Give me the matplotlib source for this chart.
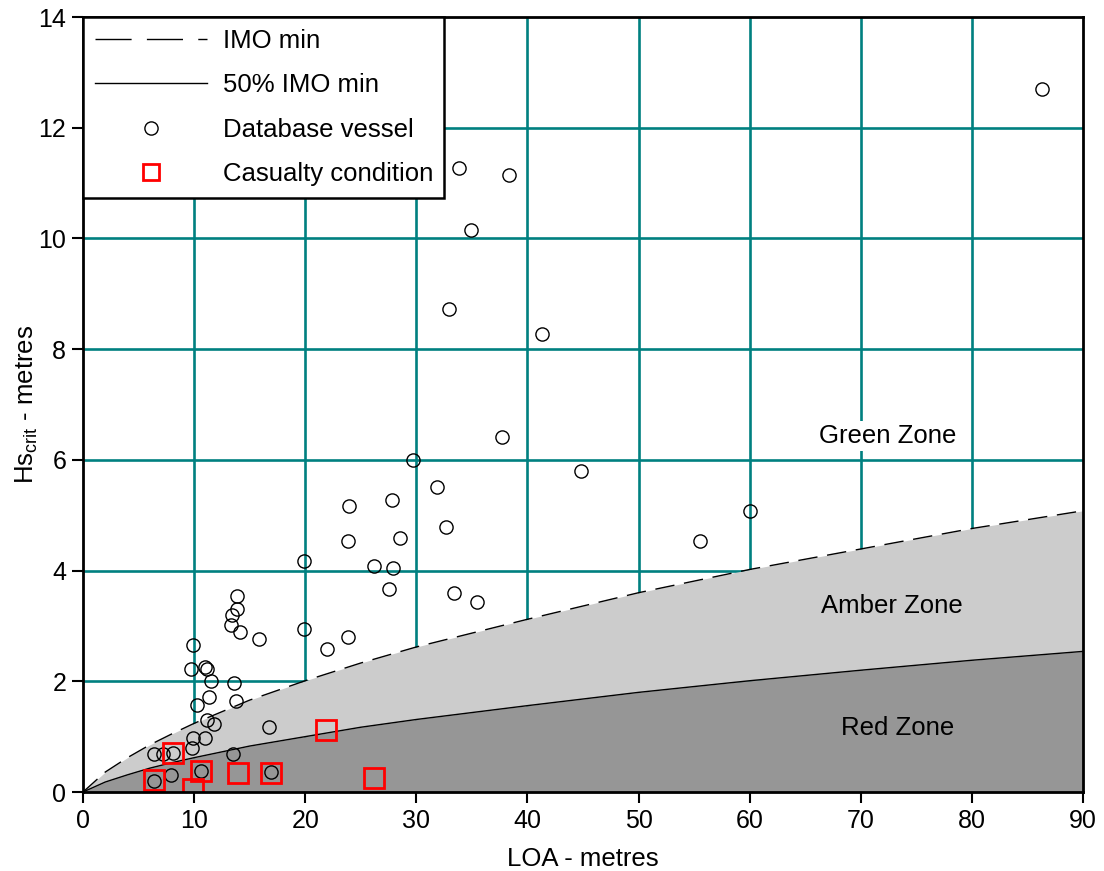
import matplotlib.pyplot as plt
from matplotlib.lines import Line2D

plt.rcParams['font.family'] = ['Liberation Sans', 'DejaVu Sans']
plt.rcParams['mathtext.fontset'] = 'custom'
plt.rcParams['mathtext.rm'] = 'Liberation Sans'
plt.rcParams['mathtext.it'] = 'Liberation Sans'

# IMO minimum critical wave height vs length overall
loa_curve = [0, 2, 4, 6, 8, 10, 15, 20, 25, 30, 40, 50, 60, 70, 80, 90]
imo_min = [0, 0.36, 0.62, 0.85, 1.05, 1.24, 1.66, 2.01, 2.33, 2.62, 3.12, 3.60, 4.02, 4.39, 4.76, 5.08]
imo_half = [0, 0.18, 0.31, 0.43, 0.53, 0.62, 0.83, 1.00, 1.17, 1.31, 1.56, 1.80, 2.01, 2.20, 2.38, 2.54]

# database vessels
db_loa = [86.3, 33.8, 38.3, 34.9, 32.9, 41.3, 37.7, 29.7, 44.8, 31.9, 27.8, 23.9,
          32.7, 60.0, 55.5, 23.85, 28.5, 19.85, 26.2, 27.9, 27.5, 33.4, 35.5, 19.9,
          23.85, 21.95, 13.86, 13.86, 13.41, 13.32, 14.13, 15.84, 9.9, 9.72, 10.98,
          11.16, 11.52, 13.59, 11.34, 13.77, 10.26, 11.16, 11.79, 16.74, 9.9, 10.98,
          9.81, 6.39, 7.2, 8.1, 13.5, 7.92, 10.62, 16.92, 6.39]
db_hs = [12.70, 11.28, 11.14, 10.16, 8.72, 8.28, 6.42, 5.99, 5.79, 5.51, 5.28, 5.17,
         4.79, 5.08, 4.53, 4.53, 4.59, 4.17, 4.09, 4.05, 3.66, 3.59, 3.44, 2.94,
         2.80, 2.58, 3.54, 3.31, 3.20, 3.02, 2.89, 2.76, 2.66, 2.22, 2.26,
         2.22, 2.01, 1.97, 1.72, 1.64, 1.57, 1.30, 1.23, 1.17, 0.98, 0.98,
         0.79, 0.69, 0.69, 0.70, 0.69, 0.31, 0.38, 0.36, 0.20]

# casualty conditions
cas_loa = [8.1, 6.39, 10.62, 13.95, 16.92, 9.9, 21.87, 26.19]
cas_hs = [0.70, 0.22, 0.38, 0.34, 0.34, 0.05, 1.12, 0.25]

fs = 18.5

fig = plt.figure(figsize=(11.04, 8.71), dpi=100)
ax = fig.add_axes([83/1104, 1-792/871, 1000/1104, 775/871])

teal = '#008080'
for gx in range(10, 90, 10):
    ax.axvline(gx, color=teal, lw=1.9, zorder=0)
for gy in range(2, 14, 2):
    ax.axhline(gy, color=teal, lw=1.9, zorder=0)

ax.fill_between(loa_curve, imo_half, imo_min, color='#cccccc', lw=0, zorder=1)
ax.fill_between(loa_curve, 0, imo_half, color='#969696', lw=0, zorder=1)

ax.plot(loa_curve, imo_min, color='black', lw=1.0, linestyle=(0, (14, 7)), zorder=2)
ax.plot(loa_curve, imo_half, color='black', lw=1.0, zorder=2)

ax.plot(db_loa, db_hs, 'o', ms=9.5, mfc='none', mec='black', mew=1.0, zorder=3)
ax.plot(cas_loa, cas_hs, 's', ms=14, mfc='none', mec='#ff0000', mew=2.0, zorder=4)

ax.text(72.45, 6.43, 'Green Zone', fontsize=fs, ha='center', va='center', zorder=5,
        bbox=dict(facecolor='white', edgecolor='none', pad=2))
ax.text(72.8, 3.36, 'Amber Zone', fontsize=fs, ha='center', va='center', zorder=5)
ax.text(73.35, 1.16, 'Red Zone', fontsize=fs, ha='center', va='center', zorder=5)

ax.set_xlim(0, 90)
ax.set_ylim(0, 14)
ax.set_xticks(range(0, 91, 10))
ax.set_yticks(range(0, 15, 2))
ax.tick_params(direction='out', length=8, width=1.5, labelsize=18, pad=4)
for s in ax.spines.values():
    s.set_linewidth(2)
    s.set_zorder(6)

ax.set_xlabel('LOA - metres', fontsize=fs, labelpad=10)
ax.set_ylabel(r'Hs$_{\mathrm{crit}}$ - metres', fontsize=fs, labelpad=-1)

handles = [
    Line2D([], [], color='black', lw=1.0, linestyle=(0, (26, 11))),
    Line2D([], [], color='black', lw=1.0),
    Line2D([], [], marker='o', ls='none', ms=9.5, mfc='none', mec='black', mew=1.0),
    Line2D([], [], marker='s', ls='none', ms=12, mfc='none', mec='#ff0000', mew=2.0),
]
labels = ['IMO min', '50% IMO min', 'Database vessel', 'Casualty condition']
leg = ax.legend(handles, labels, loc='upper left', bbox_to_anchor=(0, 1),
                borderaxespad=0, fontsize=fs, handlelength=4.36, handletextpad=0.62,
                labelspacing=0.8, fancybox=False, framealpha=1, edgecolor='black',
                borderpad=0.45)
leg.get_frame().set_linewidth(1.8)
leg.set_zorder(7)

fig.savefig('out.png', dpi=100)
